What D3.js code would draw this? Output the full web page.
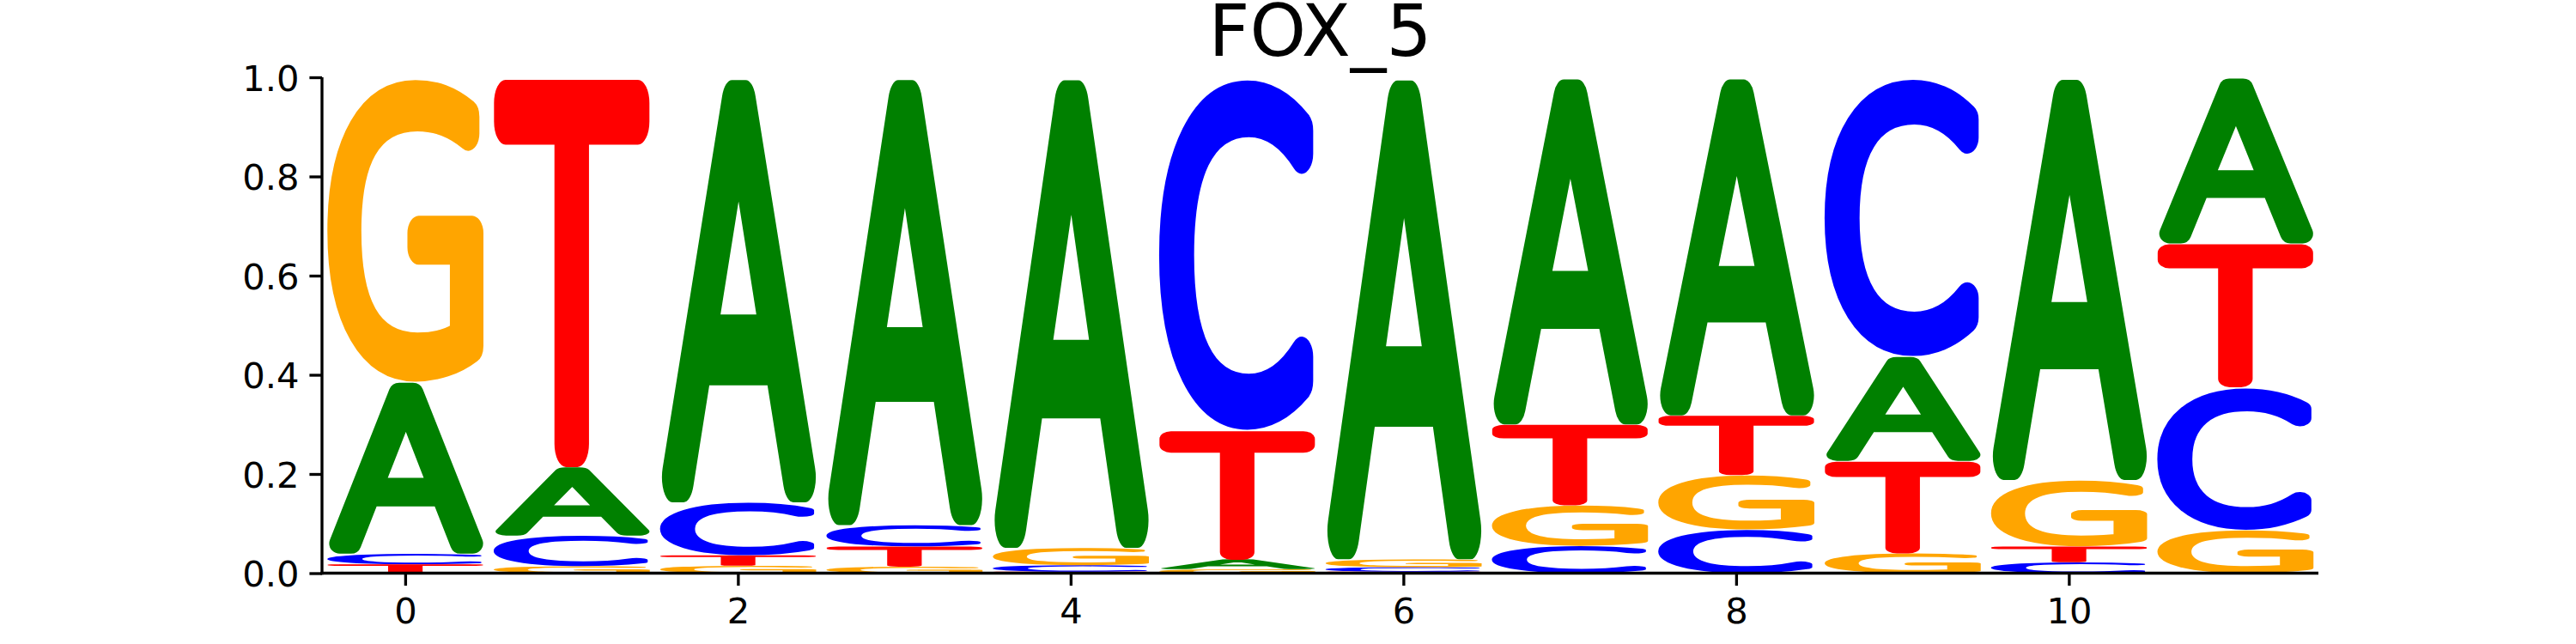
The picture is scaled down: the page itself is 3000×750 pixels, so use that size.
<!DOCTYPE html>
<html>
<head>
<meta charset="utf-8">
<script src="https://cdn.jsdelivr.net/npm/d3@7"></script>
<style>
  html, body { margin: 0; padding: 0; background: #fff; }
  svg { display: block; }
</style>
</head>
<body>
<svg id="chart" width="3000" height="750"></svg>
<script>
// ---- data (probabilities per position) ----
const title = "FOX_5";
const positions = [0, 1, 2, 3, 4, 5, 6, 7, 8, 9, 10, 11];
const letters = ["A", "C", "G", "T"];
const probA = [0.346, 0.138, 0.857, 0.903, 0.949, 0.019, 0.972, 0.700, 0.682, 0.211, 0.812, 0.335];
const probC = [0.021, 0.062, 0.107, 0.043, 0.013, 0.712, 0.009, 0.055, 0.088, 0.563, 0.022, 0.288];
const probG = [0.615, 0.014, 0.015, 0.013, 0.035, 0.008, 0.016, 0.082, 0.110, 0.040, 0.134, 0.087];
const probT = [0.018, 0.786, 0.021, 0.041, 0.003, 0.261, 0.003, 0.163, 0.120, 0.186, 0.032, 0.290];
const xTicks = [0, 2, 4, 6, 8, 10];
const yTicks = [0, 0.2, 0.4, 0.6, 0.8, 1.0];
const letterColors = { A: "#008000", C: "#0000ff", G: "#ffa500", T: "#ff0000" };

(function () {
// ---- layout ----
const mLeft = 375, mRight = 2700, mTop = 90, mBottom = 667.5;
const glyphWidth = 0.95;
const FONT = "'DejaVu Sans'";
const FS = 1000;            // local font size for glyphs
const stemRatio = 0.238;    // T stem width / T width in the reference

const svg = d3.select("#chart");
const x = d3.scaleLinear().domain([-0.5, positions.length - 0.5]).range([mLeft, mRight]);
const y = d3.scaleLinear().domain([0, 1]).range([mBottom, mTop]);

// stacked data
const probs = { A: probA, C: probC, G: probG, T: probT };
const stacks = [];
positions.forEach((p, i) => {
  const col = letters.map(l => ({ letter: l, v: probs[l][i] }))
    .sort((a, b) => a.v - b.v);
  let acc = 0;
  col.forEach(d => {
    stacks.push({ pos: p, letter: d.letter, y0: acc, y1: acc + d.v });
    acc += d.v;
  });
});

// choose the thinnest available weight, then embolden with a round stroke
const cv = document.createElement("canvas");
const ctx = cv.getContext("2d");
function inkW(ch, w) {
  ctx.font = `${w} ${FS}px ${FONT}`;
  const m = ctx.measureText(ch);
  return m.actualBoundingBoxLeft + m.actualBoundingBoxRight;
}
let GW = "normal", stem = inkW("I", "normal");
["200", "300"].forEach(w => { const s = inkW("I", w); if (s < stem - 1) { stem = s; GW = w; } });
const tW = inkW("T", GW);
const SW = Math.max(0, (stemRatio * tW - stem) / (1 - stemRatio));

ctx.font = `${GW} ${FS}px ${FONT}`;
const metrics = {};
letters.forEach(l => {
  const m = ctx.measureText(l);
  metrics[l] = {
    L: -m.actualBoundingBoxLeft - SW / 2,
    R: m.actualBoundingBoxRight + SW / 2,
    T: -m.actualBoundingBoxAscent - SW / 2,
    B: m.actualBoundingBoxDescent + SW / 2
  };
});

const gLogo = svg.append("g").attr("class", "logo");
gLogo.selectAll("text.glyph")
  .data(stacks.filter(d => d.y1 - d.y0 > 0))
  .join("text")
  .attr("class", "glyph")
  .attr("x", 0).attr("y", 0)
  .attr("font-family", FONT)
  .attr("font-weight", GW)
  .attr("font-size", FS)
  .attr("fill", d => letterColors[d.letter])
  .attr("stroke", d => letterColors[d.letter])
  .attr("stroke-width", SW)
  .attr("stroke-linejoin", "round")
  .attr("transform", d => {
    const m = metrics[d.letter];
    const bx0 = x(d.pos - glyphWidth / 2), bx1 = x(d.pos + glyphWidth / 2);
    const by0 = y(d.y1), by1 = y(d.y0);
    const sx = (bx1 - bx0) / (m.R - m.L);
    const sy = (by1 - by0) / (m.B - m.T);
    return `translate(${bx0},${by0}) scale(${sx},${sy}) translate(${-m.L},${-m.T})`;
  })
  .text(d => d.letter);

// axes
const tickFS = 41.67;
const xAxis = d3.axisBottom(x).tickValues(xTicks).tickFormat(d3.format("d"))
  .tickSize(14.6).tickPadding(12);
const yAxis = d3.axisLeft(y).tickValues(yTicks).tickFormat(d3.format(".1f"))
  .tickSize(14.6).tickPadding(12);

const gx = svg.append("g").attr("transform", `translate(0,${mBottom})`).call(xAxis);
const gy = svg.append("g").attr("transform", `translate(${mLeft},0)`).call(yAxis);
[gx, gy].forEach(g => {
  g.select(".domain").remove();
  g.selectAll(".tick line").attr("stroke", "#000").attr("stroke-width", 3.33);
  g.selectAll(".tick text").attr("font-family", FONT).attr("font-size", tickFS).attr("fill", "#000");
});
gx.selectAll(".tick text").attr("dy", "0.76em");
gy.selectAll(".tick text").attr("dy", "0.36em");

// spines (left and bottom only)
svg.append("line").attr("x1", mLeft).attr("x2", mLeft).attr("y1", mTop).attr("y2", mBottom + 1.66)
  .attr("stroke", "#000").attr("stroke-width", 3.33);
svg.append("line").attr("x1", mLeft - 1.66).attr("x2", mRight).attr("y1", mBottom).attr("y2", mBottom)
  .attr("stroke", "#000").attr("stroke-width", 3.33);

// title
svg.append("text").attr("x", (mLeft + mRight) / 2).attr("y", 65)
  .attr("text-anchor", "middle").attr("font-family", FONT).attr("font-size", 83.3)
  .attr("fill", "#000").text(title);
})();
</script>
</body>
</html>
